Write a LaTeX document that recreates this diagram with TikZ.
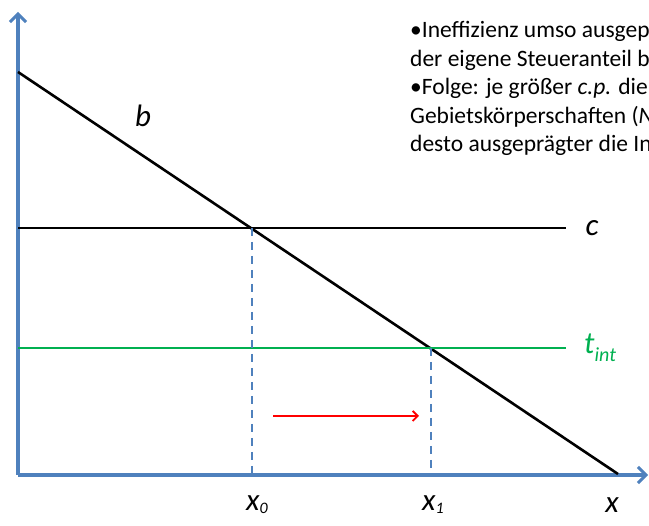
\documentclass[tikz,border=0pt]{standalone}
\usepackage{fontspec}
\setmainfont{Carlito}
\usepackage{xcolor}
\definecolor{axisblue}{RGB}{79,129,189}
\definecolor{tgreen}{RGB}{0,176,80}
\usetikzlibrary{arrows.meta,positioning,calc}

\tikzset{
    axis/.style={axisblue, line width=3.5pt, -{Straight Barb[length=8pt,width=16pt,line width=3pt]}},
    curve/.style={black, line width=2.6pt},
    guide/.style={axisblue, line width=2.6pt, dash pattern=on 8pt off 6pt},
    movearrow/.style={red, line width=1.8pt, -{Straight Barb[length=5pt,width=10pt]}},
    biglabel/.style={font=\fontsize{31}{31}\selectfont\itshape, inner sep=0pt},
    noteline/.style={font=\fontsize{23.5}{28}\selectfont, anchor=base west, inner sep=0pt}
}

\begin{document}
\begin{tikzpicture}[x=1pt, y=-1pt]
        \useasboundingbox (0,0) rectangle (649,526);
        \clip (0,0) rectangle (649,526);
        % axes
        \coordinate (O) at (18,475);
        \coordinate (ytip) at (18,12);
        \coordinate (xtip) at (648,475);
        \draw[axis] (O) -- (ytip);
        \draw[axis] (O) -- (xtip);
        % curves
        \coordinate (bstart) at (18,72);
        \coordinate (bend) at (618,474);
        \coordinate (cstart) at (18,228);
        \coordinate (cend) at (566,228);
        \coordinate (tstart) at (18,348);
        \coordinate (tend) at (566,348);
        \draw[curve] (bstart) -- (bend);
        \draw[curve] (cstart) -- (cend);
        \draw[tgreen, line width=2.6pt] (tstart) -- (tend);
        % equilibria
        \coordinate (e0) at (252,228);
        \coordinate (e1) at (431,348);
        \coordinate (f0) at (252,473);
        \coordinate (f1) at (431,473);
        \draw[guide] (e0) -- (f0);
        \draw[guide] (e1) -- (f1);
        % shift
        \coordinate (sa) at (273,416);
        \coordinate (sb) at (419,416);
        \draw[movearrow] (sa) -- (sb);
        % labels
        \node[biglabel] (lb) at (143,116) {b};
        \node[biglabel] (lc) at (592,228) {c};
        \node[biglabel, text=tgreen, anchor=west] (lt) at (584,348) {t\raisebox{-8pt}{\fontsize{20}{20}\selectfont int}};
        \node[biglabel] (lx0) at (257,505) {x\raisebox{-3pt}{\fontsize{16}{16}\selectfont 0}};
        \node[biglabel] (lx1) at (433,505) {x\raisebox{-3pt}{\fontsize{16}{16}\selectfont 1}};
        \node[biglabel] (lx) at (612,505) {x};
        % notes (cut at the right edge)
        \node[noteline] (n1) at (410,38) {•Ineffizienz umso ausgep};
        \node[noteline] (n2) at (410,66.5) {der eigene Steueranteil b};
        \node[noteline] (n3) at (410,95) {•Folge: je größer \textit{c.p.} die};
        \node[noteline] (n4) at (410,123.5) {Gebietskörperschaften (\textit{N}};
        \node[noteline] (n5) at (410,152) {desto ausgeprägter die In};
    \end{tikzpicture}
\end{document}
